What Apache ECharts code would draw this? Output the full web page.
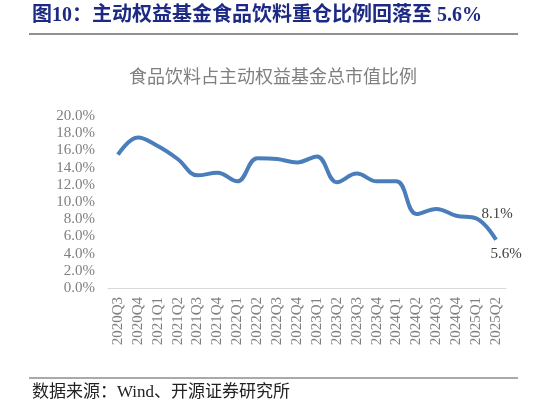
<!DOCTYPE html>
<html><head><meta charset="utf-8">
<script src="https://cdn.jsdelivr.net/npm/echarts@6/dist/echarts.min.js"></script>
<style>html,body{margin:0;padding:0;background:#fff}#c{width:546px;height:408px}</style>
</head><body><div id="c"></div>
<script>
var categories = ['2020Q3','2020Q4','2021Q1','2021Q2','2021Q3','2021Q4','2022Q1','2022Q2','2022Q3','2022Q4','2023Q1','2023Q2','2023Q3','2023Q4','2024Q1','2024Q2','2024Q3','2024Q4','2025Q1','2025Q2'];
var shareValues = [15.5,17.5,16.5,15.0,13.1,13.4,12.4,15.1,15.0,14.6,15.3,12.3,13.3,12.4,12.4,8.6,9.2,8.4,8.1,5.6];
var yTicks = [0,2,4,6,8,10,12,14,16,18,20];
var labelledIdx = {18:'top', 19:'bottom'};

var serif = '"Liberation Serif","Noto Sans CJK SC",serif';
var chart = echarts.init(document.getElementById('c'));
var seriesData = shareValues.map(function(v,i){
  var o = {value:v};
  if (labelledIdx[i]) {
    var top = labelledIdx[i]==='top';
    o.label = {show:true, position: labelledIdx[i], distance: top?3:7,
      formatter: function(p){return p.value.toFixed(1)+'%';},
      fontFamily: serif, fontSize: 15, color:'#404040'};
  }
  return o;
});
chart.setOption({
  animation:false,
  grid:{left:108,right:40,top:116,bottom:120,containLabel:false},
  graphic:[
    {type:'text',left:32,top:6,style:{text:'图10：主动权益基金食品饮料重仓比例回落至 5.6%',font:'bold 20px '+serif,fill:'#1c2a84'}},
    {type:'line',shape:{x1:29,y1:34,x2:518,y2:34},style:{stroke:'#222',lineWidth:1}},
    {type:'text',left:'center',top:69,style:{text:'食品饮料占主动权益基金总市值比例',font:'18px '+serif,fill:'#7f7f7f'}},
    {type:'line',shape:{x1:29,y1:378,x2:518,y2:378},style:{stroke:'#555',lineWidth:1}},
    {type:'text',left:32,top:384,style:{text:'数据来源：Wind、开源证券研究所',font:'17px '+serif,fill:'#222'}}
  ],
  xAxis:{type:'category',data:categories,boundaryGap:true,
    axisLine:{lineStyle:{color:'#d9d9d9',width:1}},axisTick:{show:false},
    axisLabel:{rotate:90,interval:0,fontFamily:serif,fontSize:15,color:'#7f7f7f',margin:9}},
  yAxis:{type:'value',min:0,max:20,interval:2,
    axisLine:{show:false},axisTick:{show:false},splitLine:{show:false},
    axisLabel:{formatter:function(v){return v.toFixed(1)+'%';},fontFamily:serif,fontSize:15,color:'#7f7f7f',margin:13}},
  series:[{type:'line',data:seriesData,smooth:0.4,symbol:'circle',symbolSize:2,showSymbol:true,
    itemStyle:{color:'rgba(0,0,0,0)',borderWidth:0},
    labelLayout:function(p){
      if (p.dataIndex===18) return {dx:21,dy:7,hideOverlap:false};
      if (p.dataIndex===19) return {dx:10,dy:-1,hideOverlap:false};
      return {hideOverlap:false};
    },
    lineStyle:{color:'#4a7ebb',width:4}}]
});
</script></body></html>
